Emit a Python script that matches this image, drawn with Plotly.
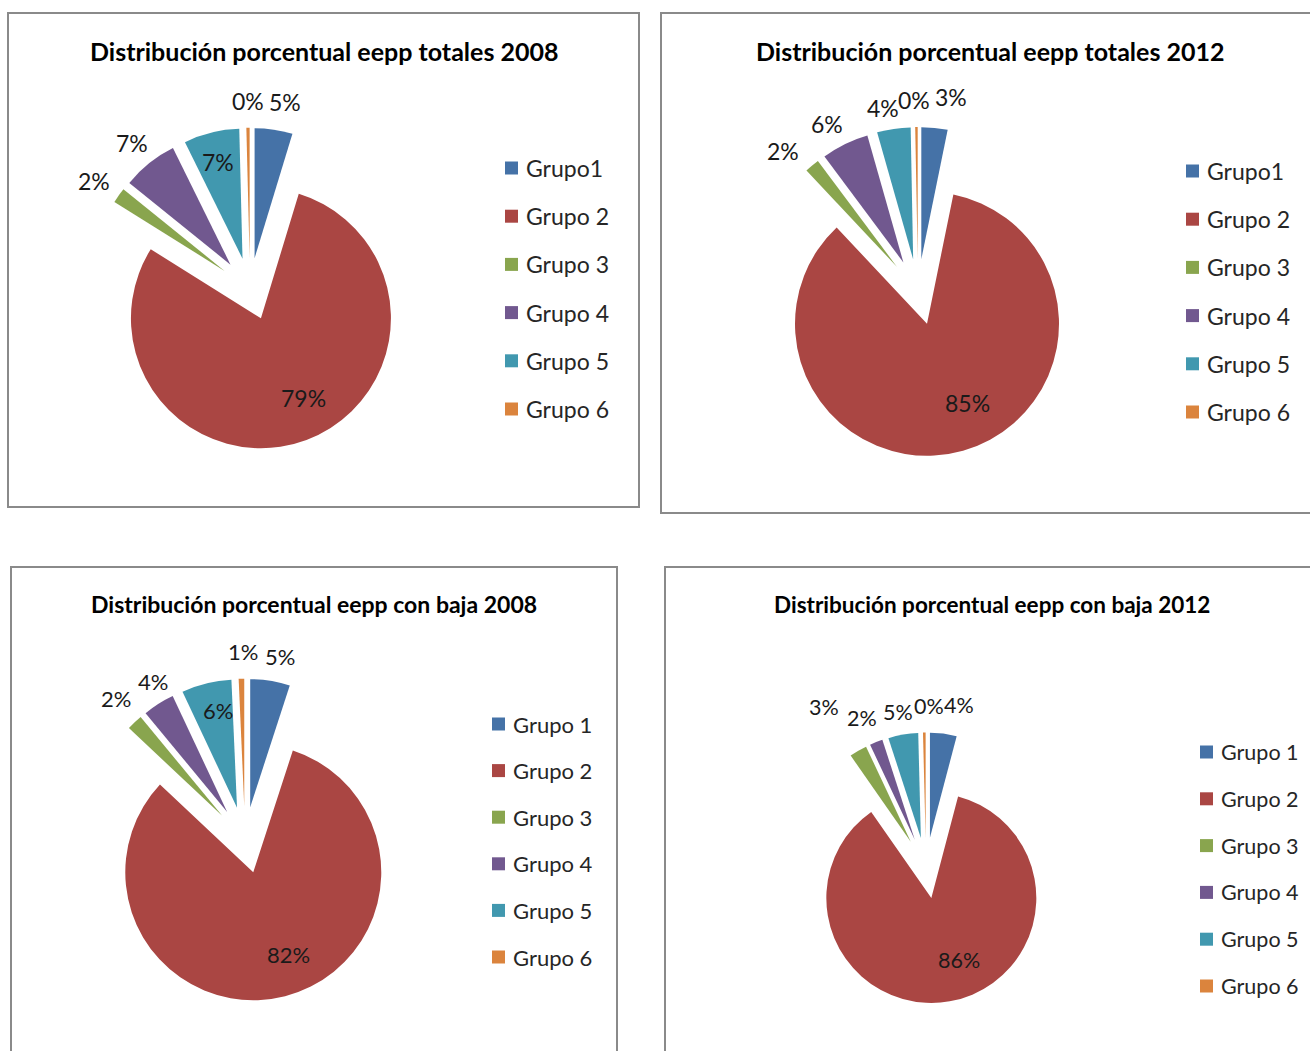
import math
import plotly.graph_objects as go

W, H = 1310, 1051

# Series data (percent of total per group)
grupos_sin_espacio = ["Grupo1", "Grupo 2", "Grupo 3", "Grupo 4", "Grupo 5", "Grupo 6"]
grupos = ["Grupo 1", "Grupo 2", "Grupo 3", "Grupo 4", "Grupo 5", "Grupo 6"]
colores = ["#4572A7", "#AA4643", "#89A54E", "#71588F", "#4198AF", "#DB843D"]

totales_2008 = [4.7, 79.2, 1.9, 6.9, 6.9, 0.4]
totales_2012 = [3.2, 84.8, 1.8, 5.8, 4.1, 0.3]
con_baja_2008 = [5.0, 82.0, 2.0, 4.0, 6.3, 0.7]
con_baja_2012 = [4.1, 86.2, 2.7, 2.0, 4.6, 0.4]

titulos = [
    "Distribución porcentual eepp totales 2008",
    "Distribución porcentual eepp totales 2012",
    "Distribución porcentual eepp con baja 2008",
    "Distribución porcentual eepp con baja 2012",
]

FONT = "Lato, 'Open Sans', sans-serif"
SEP_ETIQUETA = 28      # gap between exploded slice edge and outside label (px)
R_INTERIOR = 0.72      # radial position of inside labels (fraction of radius)


def fx(x):
    return x / W


def fy(y):
    return 1 - y / H


# Layout of each panel in pixels; "ajuste" nudges crowded labels (px)
paneles = [
    dict(valores=totales_2008, etiquetas=grupos_sin_espacio, titulo=titulos[0],
         centro=(250, 289), radio=130, pull=0.24,
         caja=(8, 13, 639, 507), titulo_xy=(324, 51), size_titulo=25, size_texto=23,
         leyenda=(505, 168, 48.2),
         dentro=[False, True, False, False, True, False],
         ajuste=[(7, 0), (10, -8), (-2, 2), (0, 2), (-2, -6), (0, 1)]),
    dict(valores=totales_2012, etiquetas=grupos_sin_espacio, titulo=titulos[1],
         centro=(918, 292), radio=132, pull=0.25,
         caja=(661, 13, 1330, 513), titulo_xy=(990, 51), size_titulo=25, size_texto=23,
         leyenda=(1186, 171, 48.2),
         dentro=[False, True, False, False, False, False],
         ajuste=[(14, -3), (15, -12), (-11, 7), (-6, 5), (-7, 7), (-2, 1)]),
    dict(valores=con_baja_2008, etiquetas=grupos, titulo=titulos[2],
         centro=(245, 840), radio=128, pull=0.26,
         caja=(11, 567, 617, 1080), titulo_xy=(314, 604), size_titulo=23, size_texto=22,
         leyenda=(492, 724, 46.6),
         dentro=[False, True, False, False, True, False],
         ajuste=[(5, 3), (12, -7), (1, -4), (9, 1), (3, -8), (2, 1)]),
    dict(valores=con_baja_2012, etiquetas=grupos, titulo=titulos[3],
         centro=(926, 868), radio=105, pull=0.29,
         caja=(665, 567, 1330, 1080), titulo_xy=(992, 604), size_titulo=22.5, size_texto=21.5,
         leyenda=(1200, 752, 46.8),
         dentro=[False, True, False, False, False, False],
         ajuste=[(12, -1), (14, -12), (-20, -20), (-4, 2), (0, 5), (5, 1)]),
]

fig = go.Figure()
shapes = []
annotations = []

for p in paneles:
    cx, cy = p["centro"]
    r = p["radio"]
    half = r * (1 + p["pull"])
    fig.add_trace(go.Pie(
        labels=p["etiquetas"],
        values=p["valores"],
        sort=False,
        direction="clockwise",
        rotation=0,
        pull=p["pull"],
        marker=dict(colors=colores, line=dict(width=0)),
        textinfo="none",
        showlegend=False,
        hoverinfo="label+percent",
        domain=dict(x=[fx(cx - half), fx(cx + half)],
                    y=[fy(cy + half), fy(cy - half)]),
    ))

    # Percentage labels placed along each slice's bisector
    total = sum(p["valores"])
    acum = 0.0
    for v, dentro, (ax, ay) in zip(p["valores"], p["dentro"], p["ajuste"]):
        medio = math.radians(360 * (acum + v / 2) / total)
        acum += v
        dx, dy = math.sin(medio), -math.cos(medio)
        if dentro:
            dist = p["pull"] * r + R_INTERIOR * r
        else:
            dist = half + SEP_ETIQUETA
        annotations.append(dict(text=f"{round(100 * v / total):.0f}%",
                                x=fx(cx + dist * dx + ax), y=fy(cy + dist * dy + ay),
                                xref="paper", yref="paper", showarrow=False,
                                xanchor="center", yanchor="middle",
                                font=dict(family=FONT, size=p["size_texto"], color="#1a1a1a")))

    # Chart frame
    x0, y0, x1, y1 = p["caja"]
    shapes.append(dict(type="rect", xref="paper", yref="paper",
                       x0=fx(x0), x1=fx(x1), y0=fy(y1), y1=fy(y0),
                       line=dict(color="#8a8a8a", width=2),
                       fillcolor="rgba(0,0,0,0)", layer="below"))

    # Title
    tx, ty = p["titulo_xy"]
    annotations.append(dict(text="<b>" + p["titulo"] + "</b>", x=fx(tx), y=fy(ty),
                            xref="paper", yref="paper", showarrow=False,
                            xanchor="center", yanchor="middle",
                            font=dict(family=FONT, size=p["size_titulo"], color="#000000")))

    # Legend: colour square + group name per slice
    lx, ly, paso = p["leyenda"]
    for i, (nombre, color) in enumerate(zip(p["etiquetas"], colores)):
        yc = ly + i * paso
        shapes.append(dict(type="rect", xref="paper", yref="paper",
                           x0=fx(lx), x1=fx(lx + 13), y0=fy(yc + 6.5), y1=fy(yc - 6.5),
                           line=dict(width=0), fillcolor=color))
        annotations.append(dict(text=nombre, x=fx(lx + 19), y=fy(yc),
                                xref="paper", yref="paper", showarrow=False,
                                xanchor="left", yanchor="middle",
                                font=dict(family=FONT, size=p["size_texto"], color="#262626")))

fig.update_layout(
    width=W, height=H,
    margin=dict(l=0, r=0, t=0, b=0, autoexpand=False),
    paper_bgcolor="white",
    plot_bgcolor="white",
    shapes=shapes,
    annotations=annotations,
)

fig.write_html("out.html")
